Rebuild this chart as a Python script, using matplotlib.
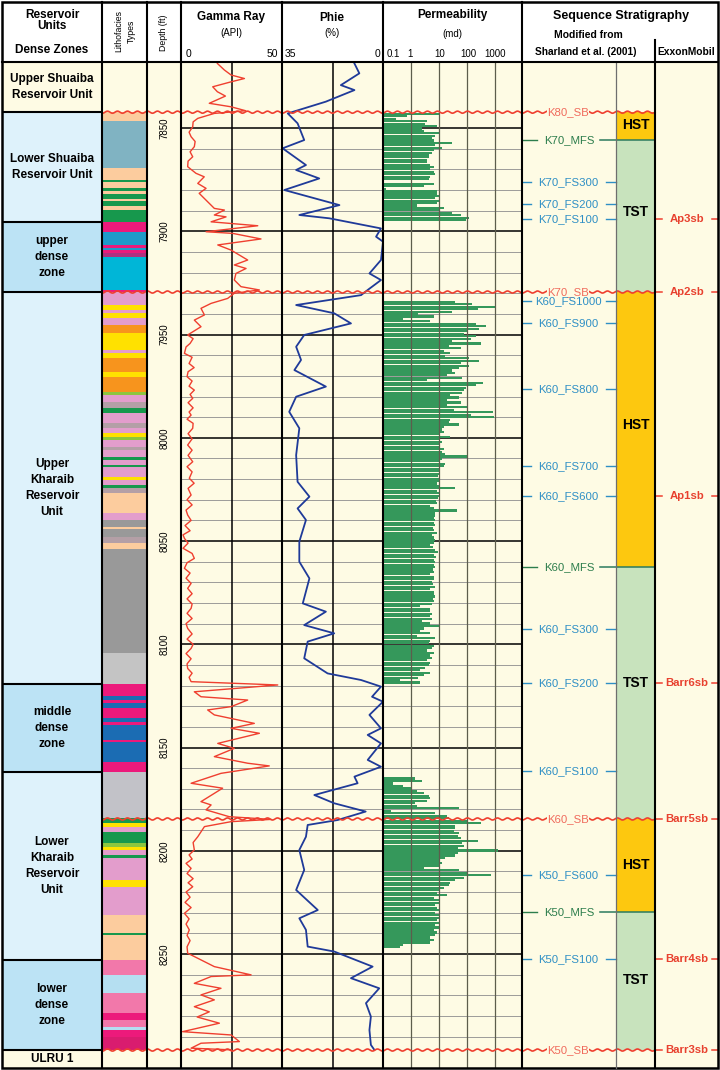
import numpy as np
import matplotlib.pyplot as plt

plt.rcParams['font.family'] = ['Liberation Sans', 'DejaVu Sans']

# ------------------------------------------------------------------ data
depth_ticks = [7850, 7900, 7950, 8000, 8050, 8100, 8150, 8200, 8250]

unit_names = ['Upper Shuaiba\nReservoir Unit', 'Lower Shuaiba\nReservoir Unit',
              'upper\ndense\nzone', 'Upper\nKharaib\nReservoir\nUnit',
              'middle\ndense\nzone', 'Lower\nKharaib\nReservoir\nUnit',
              'lower\ndense\nzone', 'ULRU 1']
unit_tops = [7818.0, 7842.3, 7895.5, 7929.4, 8119.2, 8161.9, 8252.9, 8296.5]
unit_kind = ['cap', 'res', 'dense', 'res', 'dense', 'res', 'dense', 'cap']
unit_base = 8305.2

lith_tops = [7842.3, 7846.6, 7869.4, 7875.2, 7876.2, 7879.1, 7880.5, 7882.0, 7884.4, 7885.4,
             7887.8, 7889.7,
             7895.5, 7900.4, 7906.7, 7908.1, 7909.1, 7910.5, 7912.5, 7928.5,
             7929.4, 7935.7, 7938.1, 7939.6, 7942.0, 7945.4, 7949.3, 7957.5, 7959.0, 7961.4,
             7968.2, 7970.6, 7977.8, 7979.3, 7982.7, 7985.6, 7988.0, 7992.9, 7995.3, 7997.7,
             7999.6, 8001.1, 8004.5, 8005.9, 8009.3, 8010.8, 8013.2, 8014.2, 8019.0, 8020.5,
             8022.9, 8024.3, 8026.8, 8036.4, 8039.8, 8043.2, 8044.2, 8048.1, 8051.0, 8053.9,
             8104.2,
             8119.2, 8125.1, 8127.0, 8128.5, 8130.9, 8135.7, 8137.6, 8139.1, 8146.4, 8147.3,
             8157.0,
             8161.9, 8184.1, 8186.6, 8188.5, 8190.9, 8196.2, 8198.2, 8199.6, 8202.1, 8203.5,
             8214.2, 8217.5, 8231.1, 8239.8, 8240.8,
             8252.9, 8260.2, 8268.9, 8278.6, 8282.0, 8285.4, 8286.8, 8290.2]
lith_codes = ['peach', 'teal', 'peach', 'green', 'peach', 'green', 'peach', 'green', 'peach', 'green',
              'peach', 'green',
              'magenta', 'steel', 'magenta', 'steel', 'magenta', 'violet', 'cyan', 'magenta',
              'lilac', 'yellow', 'lilac', 'yellow', 'lilac', 'orange', 'yellow', 'lilac', 'yellow', 'orange',
              'yellow', 'orange', 'lime', 'lilac', 'mauve', 'green', 'lilac', 'mauve', 'lilac', 'yellow',
              'lime', 'lilac', 'mauve', 'lilac', 'green', 'lilac', 'green', 'lilac', 'yellow', 'lilac',
              'green', 'mauve', 'peach', 'lilac', 'gray', 'peach', 'gray', 'mauve', 'peach', 'gray',
              'ltgray',
              'magenta', 'royal', 'magenta', 'royal', 'magenta', 'royal', 'magenta', 'royal', 'magenta', 'royal',
              'magenta',
              'silver', 'green', 'yellow', 'lilac', 'green', 'lime', 'yellow', 'lilac', 'green', 'lilac',
              'yellow', 'lilac', 'peach', 'green', 'peach',
              'hotpink', 'skyblue', 'hotpink', 'magenta', 'hotpink', 'skyblue', 'magenta', 'crimson']
lith_base = 8296.5

# gamma ray (API)
gr_depth = [7818.7, 7821.9, 7824.3, 7826.0, 7827.6, 7830.0, 7832.4, 7834.5, 7838.0, 7839.7,
            7841.6, 7842.9,
            7845.3, 7847.0, 7849.4, 7852.0, 7854.2, 7856.5, 7859.0, 7861.5, 7863.9, 7866.0,
            7868.7,
            7871.9, 7873.6, 7876.8, 7879.2, 7881.6, 7885.7, 7888.9, 7889.7, 7892.1, 7893.0,
            7895.4, 7897.3, 7900.2, 7901.0, 7903.7, 7906.6, 7909.1, 7913.9, 7916.3, 7918.0,
            7920.4, 7923.6, 7926.8, 7928.4, 7930.0, 7932.5, 7934.9, 7937.3, 7940.5, 7943.0,
            7946.2,
            7950.2, 7952.0, 7954.3, 7956.0, 7959.1, 7961.0, 7964.0, 7966.0, 7968.0, 7970.4,
            7972.5, 7975.0, 7976.9, 7979.0, 7980.9, 7983.0, 7985.5, 7987.5, 7989.0, 7991.0,
            7993.0, 7995.4, 7998.0, 8000.5, 8003.5, 8006.0, 8008.5, 8011.6, 8014.0, 8016.5,
            8019.6, 8022.0, 8024.5, 8027.7, 8030.0, 8032.5, 8035.0, 8037.4, 8040.0, 8042.5,
            8045.0, 8047.0, 8048.7, 8051.0, 8053.5, 8056.0, 8058.4, 8060.5, 8063.2, 8065.5,
            8068.0, 8070.5, 8072.9, 8075.5, 8078.0, 8080.5, 8082.6, 8085.0, 8087.5, 8090.0,
            8092.3, 8095.0, 8097.5, 8100.0, 8102.0, 8104.5, 8107.0, 8109.5, 8111.7, 8114.0,
            8116.0, 8118.1,
            8119.7, 8123.0, 8125.4, 8127.0, 8130.2, 8131.8, 8134.2, 8135.9, 8138.3, 8140.7,
            8143.1, 8148.0, 8150.4, 8154.4, 8157.6, 8158.9, 8162.5, 8167.3, 8169.7, 8176.2,
            8177.8, 8180.2, 8183.5, 8184.8, 8185.9, 8188.3,
            8193.2, 8196.0, 8199.6, 8202.0, 8204.0, 8206.1, 8208.5, 8211.0, 8213.5, 8215.5,
            8217.4, 8220.0, 8222.5, 8225.0, 8227.5, 8230.3, 8233.0, 8235.5, 8238.3, 8241.0,
            8243.5, 8246.5, 8249.6,
            8256.1, 8260.1, 8260.9, 8264.2, 8266.6, 8269.8, 8272.2, 8275.5, 8278.0, 8280.5,
            8283.5, 8287.6, 8289.2, 8292.4, 8293.2, 8295.6, 8296.4]
gr_api = [18.0, 21.5, 24.8, 31.4, 24.8, 15.7, 18.0, 22.0, 14.0, 24.8,
          32.0, 16.5,
          8.3, 6.0, 5.8, 4.0, 5.0, 7.0, 6.6, 4.5, 5.8, 3.5,
          3.3,
          7.4, 11.5, 8.3, 12.4, 9.0, 13.2, 16.5, 21.5, 16.5, 22.3,
          14.9, 38.0, 12.4, 25.6, 39.6, 18.2, 24.8, 33.0, 26.4, 32.2,
          27.2, 26.4, 29.7, 38.8, 26.4, 23.1, 14.9, 9.9, 11.6, 6.6,
          9.9,
          3.3, 6.0, 4.5, 2.5, 1.7, 5.5, 4.0, 6.5, 3.5, 3.0,
          5.5, 4.0, 6.6, 4.5, 5.8, 3.5, 6.0, 4.0, 5.0, 3.0,
          6.0, 5.8, 3.5, 5.5, 3.3, 5.5, 3.5, 5.8, 3.0, 5.5,
          4.1, 6.5, 3.5, 5.0, 3.0, 5.5, 2.5, 3.3, 5.0, 2.0,
          4.5, 1.0, 1.7, 3.5, 1.0, 5.5, 6.6, 3.0, 1.7, 4.5,
          2.5, 5.0, 3.3, 5.5, 3.0, 5.5, 5.0, 3.0, 5.5, 2.5,
          3.3, 5.5, 3.0, 6.0, 5.0, 2.5, 5.0, 3.0, 3.3, 5.5,
          4.0, 5.0,
          47.9, 6.6, 9.9, 33.0, 24.8, 13.2, 16.5, 24.8, 36.3, 24.8,
          38.8, 18.2, 26.4, 16.5, 33.0, 43.7, 19.8, 5.0, 20.6, 9.9,
          14.9, 12.4, 23.9, 44.6, 24.8, 11.6,
          8.3, 6.0, 6.6, 4.0, 5.5, 2.5, 5.0, 3.0, 6.0, 3.5,
          5.8, 2.5, 4.5, 2.0, 5.0, 1.7, 4.0, 2.5, 4.1, 3.0,
          4.5, 3.0, 3.3,
          16.5, 34.7, 14.9, 6.6, 19.8, 9.9, 16.5, 6.6, 14.0, 8.0,
          19.0, 0.8, 24.8, 28.9, 9.9, 5.0, 24.8]

# effective porosity (%)
phie_depth = [7818.7, 7823.5, 7829.2, 7831.6, 7837.2, 7842.9, 7847.7, 7855.8, 7859.8, 7867.9,
              7870.3, 7874.4, 7880.0, 7887.3, 7892.1, 7893.7, 7898.6, 7902.6, 7905.0, 7913.9,
              7920.4, 7923.6, 7928.4, 7930.9, 7935.7, 7939.7, 7944.6, 7950.2, 7955.9, 7962.3,
              7967.2, 7975.2, 7980.1, 7987.4, 7995.4, 8008.4, 8021.3, 8028.5, 8034.2, 8039.8,
              8050.3, 8060.0, 8068.1, 8080.2, 8084.2, 8090.7, 8094.7, 8098.7, 8106.8, 8114.1,
              8117.3, 8120.5, 8125.4, 8127.8, 8134.2, 8140.7, 8143.9, 8148.0, 8156.0, 8159.3,
              8164.1, 8167.3, 8173.0, 8177.0, 8181.0, 8185.1, 8187.5, 8193.2, 8199.6, 8209.3,
              8219.0, 8228.7, 8232.7, 8238.3, 8246.4, 8248.8, 8256.1, 8261.7, 8266.6, 8273.8,
              8280.3, 8286.8, 8294.0, 8296.4]
phie_pct = [9.9, 8.2, 14.6, 9.9, 19.8, 33.0, 29.6, 27.3, 34.8, 26.7,
            30.1, 22.1, 34.2, 15.1, 29.0, 18.6, 0.7, 2.4, 0.0, 0.7,
            4.7, 0.7, 5.3, 7.6, 30.1, 16.9, 11.1, 27.3, 30.1, 28.4,
            30.7, 19.8, 30.1, 32.5, 29.0, 30.1, 29.6, 25.5, 29.6, 26.7,
            29.0, 29.0, 25.5, 27.8, 19.8, 27.3, 16.9, 26.1, 27.3, 19.2,
            7.6, 0.7, 3.8, 0.0, 4.7, 0.7, 5.3, 0.7, 5.3, 0.7,
            9.9, 8.8, 23.8, 16.9, 6.0, 15.7, 26.1, 26.7, 29.0, 27.3,
            30.1, 22.6, 29.0, 26.7, 26.1, 16.9, 3.6, 11.1, 1.3, 5.9,
            4.2, 4.7, 4.2, 3.0]

# core permeability (md), three sampled intervals
perm_tops = [7843.2, 7934.1, 8165.0]
perm_bases = [7894.5, 8118.5, 8246.8]
perm_upper = [11, 0.7, 0.3, 3.7, 3.2, 8.4, 2.4, 2.8, 11, 7.3, 5.5, 6.4, 29, 7.3, 12.7, 6.4,
              5.5, 4.2, 4.2, 3.7, 3.7, 4.8, 6.4, 4.8, 6.4, 7.3, 4.8, 4.2, 0.1, 6.4, 2.8, 0.13,
              8.4, 8.4, 9.6, 7.3, 9.6, 8.4, 1.6, 14.6, 9.6, 29, 58, 116, 88]
perm_middle = [38, 153, 1060, 232, 29, 1.8, 6.4, 0.53, 4.8, 202, 462, 266, 101, 77, 202, 133,
               29, 305, 22, 58, 14.6, 25, 16.8, 116, 266, 58, 116, 51, 29, 38, 19, 67,
               3.7, 351, 202, 88, 77, 67, 25, 51, 19, 58, 19, 101, 33, 804, 133, 923,
               25, 22, 51, 14.6, 12.7, 14.6, 11, 25, 9.6, 12.7, 11, 9.6, 14.6, 12.7,
               16.8, 101, 12.7, 9.6, 16.8, 14.6, 11, 9.6, 10.5, 8.9, 9.6, 10.5, 8.4, 9.6,
               38, 8.4, 9.6, 11, 8.9, 7.9, 8.4, 4.8, 6.4, 42, 7.3, 7.3, 6.4, 7.3, 6.4, 7.3,
               6.0, 6.7, 8.4, 5.5, 6.4, 7.3, 6.4, 4.8, 6.0, 7.3, 8.9, 6.4, 7.9, 6.4, 7.3, 6.4,
               7.3, 6.0, 6.4, 4.8, 6.7, 6.4, 5.5, 6.0, 7.3, 4.8, 6.4, 6.7, 7.3, 6.0, 6.4, 5.5,
               2.1, 4.8, 4.8, 5.5, 4.6, 5.5, 2.4, 4.8, 9.6, 2.8, 2.1, 4.8, 1.6, 7.3, 4.8, 4.2,
               6.4, 5.5, 3.7, 6.4, 4.8, 5.5, 3.7, 4.8, 4.2, 3.2, 2.1, 4.8, 2.8, 1.8, 0.4, 2.1]
perm_lower = [1.4, 2.4, 0.23, 0.53, 1.05, 1.6, 2.8, 4.2, 4.8, 3.7, 1.4, 1.6, 51, 0.2, 7.3, 19,
              22, 101, 305, 38, 38, 33, 51, 45, 58, 232, 67, 77, 45, 1200, 45, 38,
              16.8, 9.6, 12.7, 11, 2.8, 51, 101, 700, 77, 38, 25, 22, 14.6, 9.6, 8.4, 19,
              6.4, 9.6, 11, 7.3, 8.4, 9.6, 7.3, 9.6, 11, 8.4, 11, 7.3, 9.6, 6.4, 8.4, 7.3,
              4.8, 6.4, 4.8, 0.53, 0.4]
perm_runs = [perm_upper, perm_middle, perm_lower]

surf_names = ['K80_SB', 'K70_MFS', 'K70_FS300', 'K70_FS200', 'K70_FS100', 'K70_SB',
              'K60_FS1000', 'K60_FS900', 'K60_FS800', 'K60_FS700', 'K60_FS600', 'K60_MFS',
              'K60_FS300', 'K60_FS200', 'K60_FS100', 'K60_SB', 'K50_FS600', 'K50_MFS',
              'K50_FS100', 'K50_SB']
surf_depths = [7842.3, 7855.8, 7876.3, 7886.9, 7894.1, 7929.4, 7933.8, 7944.3, 7976.4, 8013.5,
               8028.2, 8062.4, 8092.8, 8118.9, 8161.2, 8184.6, 8211.7, 8229.8, 8252.4, 8296.5]

tract_names = ['HST', 'TST', 'HST', 'TST', 'HST', 'TST']
tract_tops = [7842.3, 7855.8, 7929.4, 8062.4, 8184.6, 8229.8]
tract_bases = [7855.8, 7929.4, 8062.4, 8184.6, 8229.8, 8296.5]
tract_label_depths = [7848.5, 7890.7, 7993.8, 8118.8, 8207.0, 8262.6]

exx_names = ['Ap3sb', 'Ap2sb', 'Ap1sb', 'Barr6sb', 'Barr5sb', 'Barr4sb', 'Barr3sb']
exx_depths = [7894.1, 7929.4, 8028.2, 8118.9, 8184.6, 8252.4, 8296.5]

# ------------------------------------------------------------------ styles
CREAM = '#fefbe4'
UNIT_BG = {'cap': CREAM, 'res': '#def2fb', 'dense': '#bce3f5'}
LITH = {'peach': '#fccc9e', 'teal': '#80b3c2', 'green': '#17984d', 'magenta': '#ec1a7b',
        'steel': '#1f9bc9', 'violet': '#b0307f', 'cyan': '#00b6d7', 'lilac': '#e39dcc',
        'yellow': '#ffe100', 'orange': '#f7941d', 'lime': '#8cc63f', 'mauve': '#b49fa6',
        'gray': '#999999', 'ltgray': '#c4c4c4', 'royal': '#1b6cb3', 'silver': '#c2c2c8',
        'hotpink': '#f278aa', 'skyblue': '#b5dff1', 'crimson': '#d91c6f'}
RED = '#ef3f2f'
SB_TXT = '#f06a5c'
FS_TXT = '#2e8fc5'
MFS_TXT = '#2c7d4c'
HST_C = '#fdc80f'
TST_C = '#c8e3bd'

W, H = 720, 1070
TOP, BOT = 62, 1068
D_TOP, D_BOT = 7818.0, 8305.2

fig = plt.figure(figsize=(7.2, 10.7), dpi=100)
fig.patch.set_facecolor('white')


def add_track(x0, x1, bg=CREAM):
    ax = fig.add_axes([x0 / W, 1 - BOT / H, (x1 - x0) / W, (BOT - TOP) / H])
    ax.set_facecolor(bg)
    ax.set_ylim(D_BOT, D_TOP)
    ax.set_xticks([])
    ax.set_yticks([])
    for s in ax.spines.values():
        s.set_visible(False)
    return ax


def depth_grid(ax):
    for d in range(7850, 8291, 10):
        major = d % 50 == 0
        ax.axhline(d, color='black' if major else '#8d8d8d', lw=1.1 if major else 0.6, zorder=0.5)


def wave(ax, x0, x1, depth, start=None, stop=None):
    # wavy sequence-boundary line; phase from figure pixels so it runs on across tracks
    start = x0 if start is None else start
    stop = x1 if stop is None else stop
    px = np.linspace(start, stop, int((stop - start) * 2) + 2)
    yy = depth + 0.5 * np.sin(2 * np.pi * px / 10.0)
    ax.plot((px - x0) / (x1 - x0), yy, transform=ax.get_yaxis_transform(),
            color=RED, lw=1.2, zorder=6, clip_on=False)


sb_depths = [d for n, d in zip(surf_names, surf_depths) if n.endswith('SB')]

# ---- reservoir units
ax_u = add_track(2, 102)
ax_u.set_xlim(0, 1)
bounds = unit_tops + [unit_base]
for i, name in enumerate(unit_names):
    ax_u.axhspan(bounds[i], bounds[i + 1], color=UNIT_BG[unit_kind[i]], zorder=0)
    if i > 0:
        ax_u.axhline(bounds[i], color='black', lw=1.5, zorder=3)
    ax_u.text(0.5, (bounds[i] + bounds[i + 1]) / 2, name, ha='center', va='center',
              fontsize=8.5, fontweight='bold', linespacing=1.45)

# ---- lithofacies
ax_l = add_track(102, 147)
ax_l.set_xlim(0, 1)
lb = lith_tops + [lith_base]
for i, code in enumerate(lith_codes):
    ax_l.axhspan(lb[i], lb[i + 1], color=LITH[code], lw=0, zorder=1)
for d in sb_depths:
    wave(ax_l, 102, 147, d)

# ---- depth
ax_d = add_track(147, 181)
for d in depth_ticks:
    ax_d.text(0.52, d, str(d), rotation=90, ha='center', va='center', fontsize=7,
              transform=ax_d.get_yaxis_transform())
for d in sb_depths:
    wave(ax_d, 147, 181, d)

# ---- gamma ray
ax_g = add_track(181, 282)
ax_g.set_xlim(0, 50)
depth_grid(ax_g)
ax_g.axvline(25, color='black', lw=1.1, zorder=1)
ax_g.plot(gr_api, gr_depth, color=RED, lw=1.0, zorder=4)
for d in sb_depths:
    wave(ax_g, 181, 282, d)

# ---- phie
ax_p = add_track(282, 383)
ax_p.set_xlim(35, 0)
depth_grid(ax_p)
ax_p.axvline(17.5, color='black', lw=1.1, zorder=1)
ax_p.plot(phie_pct, phie_depth, color='#1f3a99', lw=1.3, zorder=4)
for d in sb_depths:
    wave(ax_p, 282, 383, d)

# ---- permeability
ax_k = add_track(383, 522)
ax_k.set_xscale('log')
ax_k.set_xlim(0.1, 10 ** 3.95)
ax_k.set_xticks([])
ax_k.minorticks_off()
depth_grid(ax_k)
for top, base, vals in zip(perm_tops, perm_bases, perm_runs):
    dd = np.linspace(top, base, len(vals))
    step = dd[1] - dd[0]
    ax_k.barh(dd, np.array(vals) - 0.1, left=0.1, height=step * 0.86,
              color='#35985b', lw=0, zorder=2)
for v in [1, 10, 100, 1000]:
    ax_k.axvline(v, color='#5d5d4c', lw=0.9, zorder=3)
for d in sb_depths:
    wave(ax_k, 383, 522, d)

# ---- sequence stratigraphy + ExxonMobil
ax_s = add_track(522, 718)
ax_s.set_xlim(522, 718)
for name, top, base, dl in zip(tract_names, tract_tops, tract_bases, tract_label_depths):
    ax_s.fill_betweenx([top, base], 616, 655, color=HST_C if name == 'HST' else TST_C, lw=0, zorder=1)
    ax_s.text(635.5, dl, name, ha='center', va='center', fontsize=10, fontweight='bold', zorder=7)

for name, d in zip(surf_names, surf_depths):
    if name.endswith('SB'):
        wave(ax_s, 522, 718, d, 522, 655)
        ax_s.text(568, d, name, ha='center', va='center', fontsize=8.2, color=SB_TXT, zorder=8,
                  bbox=dict(facecolor=CREAM, edgecolor='none', pad=0.4))
    elif 'MFS' in name:
        ax_s.plot([522, 537], [d, d], color=MFS_TXT, lw=1, zorder=5)
        ax_s.plot([600, 655], [d, d], color='#2b7a5e', lw=1.1, zorder=5)
        ax_s.text(569, d, name, ha='center', va='center', fontsize=8.2, color=MFS_TXT, zorder=9)
    else:
        ax_s.plot([522, 531], [d, d], color=FS_TXT, lw=1, zorder=5)
        ax_s.plot([606, 616], [d, d], color=FS_TXT, lw=1, zorder=5)
        ax_s.text(568.5, d, name, ha='center', va='center', fontsize=8.2, color=FS_TXT, zorder=9)

for name, d in zip(exx_names, exx_depths):
    ax_s.plot([656, 662], [d, d], color=RED, lw=1.1, zorder=5)
    ax_s.plot([712, 718], [d, d], color=RED, lw=1.1, zorder=5)
    ax_s.text(687, d, name, ha='center', va='center', fontsize=8.2, fontweight='bold',
              color='#e8412f', zorder=8)

# ---- frame and header (pixel overlay)
ov = fig.add_axes([0, 0, 1, 1], zorder=10)
ov.set_xlim(0, W)
ov.set_ylim(H, 0)
ov.axis('off')
ov.add_patch(plt.Rectangle((1.5, 2), 716.5, 1066, fill=False, ec='black', lw=1.8))
for x in [102, 147, 181, 282, 383, 522]:
    ov.plot([x, x], [2, 1068], color='black', lw=1.5)
ov.plot([655, 655], [40, 1068], color='black', lw=1.5)
ov.plot([616, 616], [62, 1068], color='#6e6e6e', lw=0.9)
ov.plot([2, 718], [62, 62], color='black', lw=1.5)

hb = dict(ha='center', va='center', fontweight='bold', fontsize=8.5)
ov.text(52, 15, 'Reservoir', **hb)
ov.text(52, 26, 'Units', **hb)
ov.text(52, 50, 'Dense Zones', **hb)
ov.text(119, 31, 'Lithofacies', rotation=90, ha='center', va='center', fontsize=6.3)
ov.text(131, 31, 'Types', rotation=90, ha='center', va='center', fontsize=6.3)
ov.text(164, 33, 'Depth (ft)', rotation=90, ha='center', va='center', fontsize=6.3)

ov.text(231, 17, 'Gamma Ray', **hb)
ov.text(231, 33, '(API)', ha='center', va='center', fontsize=7)
ov.text(186, 54, '0', ha='left', va='center', fontsize=7.5)
ov.text(278, 54, '50', ha='right', va='center', fontsize=7.5)

ov.text(332, 18, 'Phie', **hb)
ov.text(332, 33, '(%)', ha='center', va='center', fontsize=7)
ov.text(285, 54, '35', ha='left', va='center', fontsize=7.5)
ov.text(380, 54, '0', ha='right', va='center', fontsize=7.5)

ov.text(452, 15, 'Permeability', **hb)
ov.text(452, 34, '(md)', ha='center', va='center', fontsize=7)
for lab, x in zip(['0.1', '1', '10', '100', '1000'], [393, 410, 440, 468, 495]):
    ov.text(x, 54, lab, ha='center', va='center', fontsize=7)

ov.text(621, 16, 'Sequence Stratigraphy', ha='center', va='center', fontweight='bold', fontsize=9)
ov.text(588, 35, 'Modified from', ha='center', va='center', fontweight='bold', fontsize=7.5)
ov.text(586, 52, 'Sharland et al. (2001)', ha='center', va='center', fontweight='bold', fontsize=7.3)
ov.text(686, 52, 'ExxonMobil', ha='center', va='center', fontweight='bold', fontsize=7.4)

fig.savefig('out.png', dpi=100, facecolor='white')
